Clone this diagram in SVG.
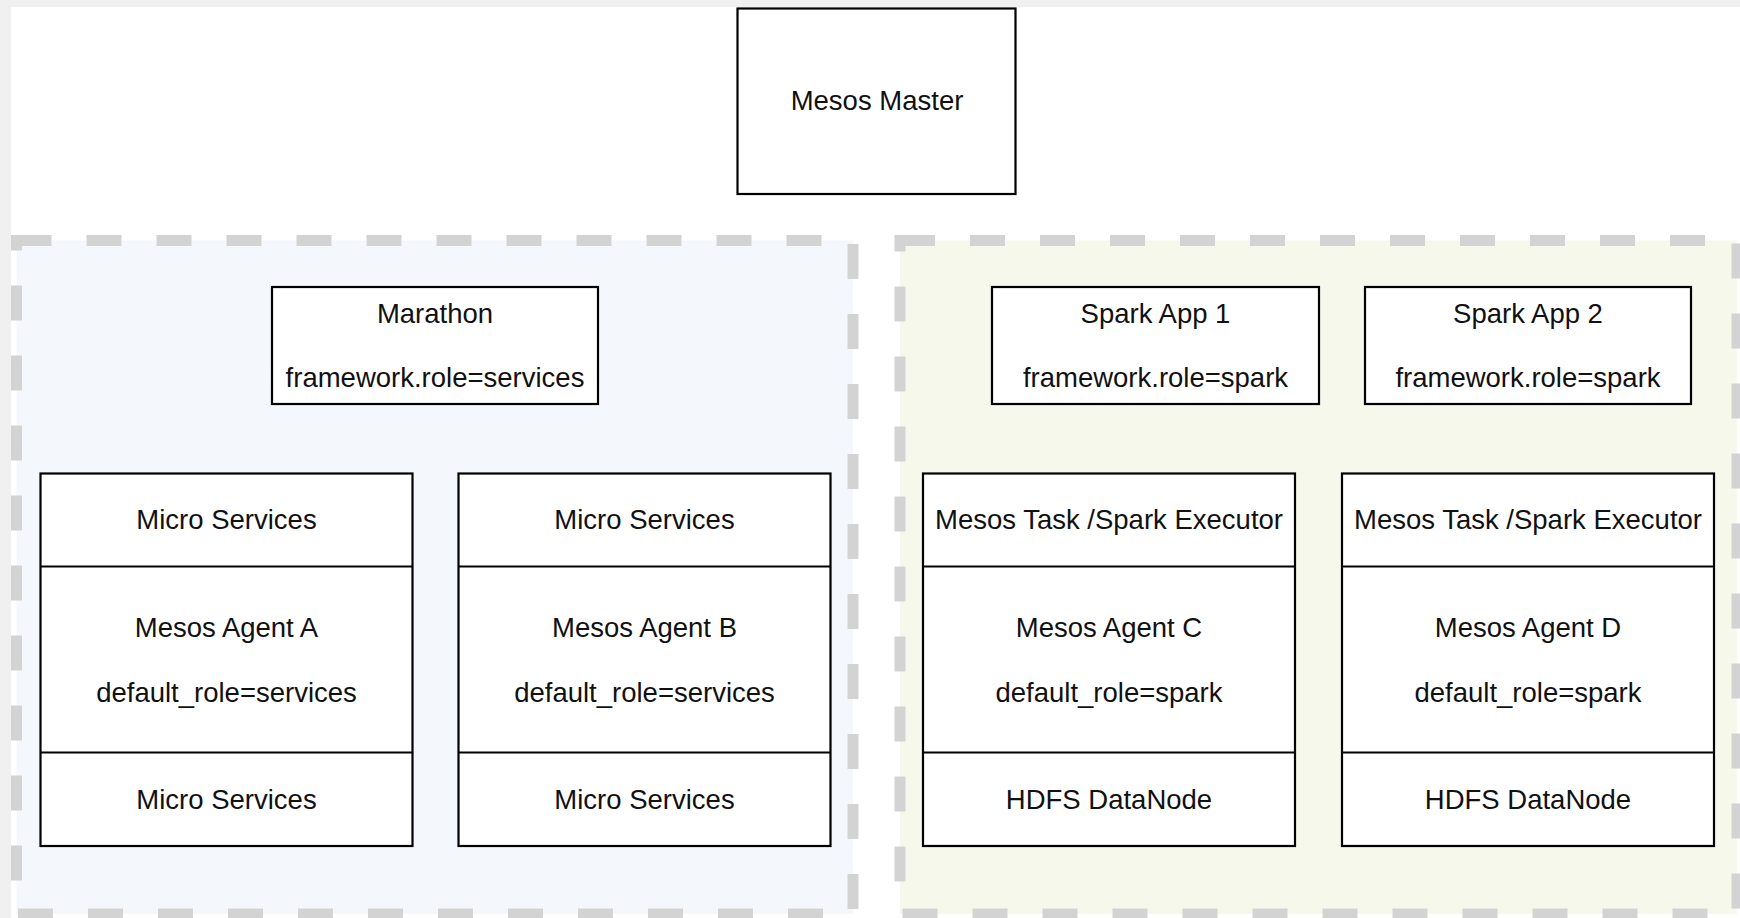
<svg xmlns="http://www.w3.org/2000/svg" width="1740" height="918" viewBox="0 0 1740 918">
<style>
.box{fill:#ffffff;stroke:#000000;stroke-width:2.2}
.div{stroke:#000000;stroke-width:2}
.grp{stroke:#d3d3d3;stroke-width:11;stroke-dasharray:35 35}
text{font-family:"Liberation Sans",Arial,Helvetica,sans-serif;font-size:27.5px;fill:#111111;text-anchor:middle}
</style>
<rect x="0" y="0" width="1740" height="918" fill="#f0f0f0"/>
<rect x="11" y="7" width="1729" height="911" fill="#ffffff"/>
<g id="group-services">
<rect class="grp" x="16.5" y="240.5" width="836.5" height="673.5" fill="#f4f8fd"/>
</g>
<g id="group-spark">
<rect class="grp" x="900" y="240.5" width="837" height="673.5" fill="#f5f8eb"/>
</g>
<g id="mesos-master">
<rect class="box" x="737.5" y="8.5" width="278" height="185.5"/>
<text x="877" y="110">Mesos Master</text>
</g>
<g id="marathon">
<rect class="box" x="272" y="287" width="326" height="117"/>
<text x="435" y="323">Marathon</text>
<text x="435" y="387">framework.role=services</text>
</g>
<g id="spark-app-1">
<rect class="box" x="992" y="287" width="327" height="117"/>
<text x="1155.5" y="323">Spark App 1</text>
<text x="1155.5" y="387">framework.role=spark</text>
</g>
<g id="spark-app-2">
<rect class="box" x="1365" y="287" width="326" height="117"/>
<text x="1528" y="323">Spark App 2</text>
<text x="1528" y="387">framework.role=spark</text>
</g>
<g id="agent-a">
<rect class="box" x="40.5" y="473.5" width="372" height="372.5"/>
<line class="div" x1="40.5" y1="566.5" x2="412.5" y2="566.5"/>
<line class="div" x1="40.5" y1="752.5" x2="412.5" y2="752.5"/>
<text x="226.5" y="529">Micro Services</text>
<text x="226.5" y="637">Mesos Agent A</text>
<text x="226.5" y="702">default_role=services</text>
<text x="226.5" y="809">Micro Services</text>
</g>
<g id="agent-b">
<rect class="box" x="458.5" y="473.5" width="372" height="372.5"/>
<line class="div" x1="458.5" y1="566.5" x2="830.5" y2="566.5"/>
<line class="div" x1="458.5" y1="752.5" x2="830.5" y2="752.5"/>
<text x="644.5" y="529">Micro Services</text>
<text x="644.5" y="637">Mesos Agent B</text>
<text x="644.5" y="702">default_role=services</text>
<text x="644.5" y="809">Micro Services</text>
</g>
<g id="agent-c">
<rect class="box" x="923" y="473.5" width="372" height="372.5"/>
<line class="div" x1="923" y1="566.5" x2="1295" y2="566.5"/>
<line class="div" x1="923" y1="752.5" x2="1295" y2="752.5"/>
<text x="1109" y="529">Mesos Task /Spark Executor</text>
<text x="1109" y="637">Mesos Agent C</text>
<text x="1109" y="702">default_role=spark</text>
<text x="1109" y="809">HDFS DataNode</text>
</g>
<g id="agent-d">
<rect class="box" x="1342" y="473.5" width="372" height="372.5"/>
<line class="div" x1="1342" y1="566.5" x2="1714" y2="566.5"/>
<line class="div" x1="1342" y1="752.5" x2="1714" y2="752.5"/>
<text x="1528" y="529">Mesos Task /Spark Executor</text>
<text x="1528" y="637">Mesos Agent D</text>
<text x="1528" y="702">default_role=spark</text>
<text x="1528" y="809">HDFS DataNode</text>
</g>
<g id="connectors"></g>
</svg>
